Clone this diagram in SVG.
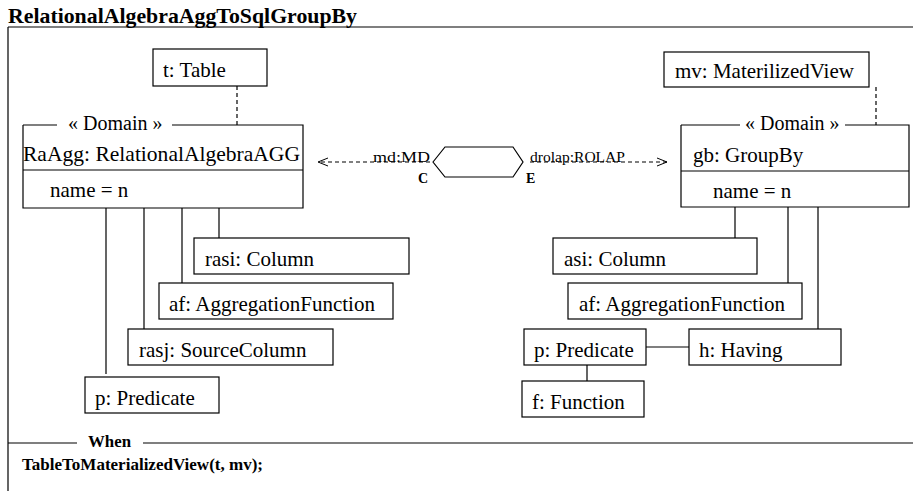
<svg xmlns="http://www.w3.org/2000/svg" width="913" height="491" viewBox="0 0 913 491">
<style>
.box{fill:#fff;stroke:#000;stroke-width:1.2}
.ln{stroke:#000;stroke-width:1.2;fill:none}
.dl{stroke:#000;stroke-width:1.2;fill:none;stroke-dasharray:4,3}
</style>
<defs>
<marker id="arr" markerWidth="12" markerHeight="10" refX="11" refY="5" orient="auto" markerUnits="userSpaceOnUse">
<path d="M1,1 L11,5 L1,9" fill="none" stroke="#000" stroke-width="1"/>
</marker>
</defs>
<rect width="913" height="491" fill="#fff"/>
<g id="frame">
<text x="8" y="23" font-family="Times New Roman" font-weight="bold" font-size="21" textLength="349" lengthAdjust="spacingAndGlyphs">RelationalAlgebraAggToSqlGroupBy</text>
<path class="ln" d="M8,27 H913 M8,27 V491"/>
<path class="ln" d="M8,443 H77 M143,443 H913"/>
<text x="88" y="447" font-family="Times New Roman" font-weight="bold" font-size="16" textLength="43" lengthAdjust="spacingAndGlyphs">When</text>
<text x="22" y="470" font-family="Times New Roman" font-weight="bold" font-size="16" textLength="241" lengthAdjust="spacingAndGlyphs">TableToMaterializedView(t, mv);</text>
</g>
<g id="connectors">
<path class="dl" d="M237,86 V125"/>
<path class="dl" d="M876,87 V125"/>
<path class="ln" d="M106,208 V374 M144,208 V329 M182,208 V283 M219,208 V238"/>
<path class="ln" d="M735,207 V238 M788,207 V283 M818,207 V329"/>
<path class="ln" d="M646,347 H689 M587,365 V381"/>
<path class="dl" d="M430,162 H318" marker-end="url(#arr)"/>
<path class="dl" d="M530,162 H667" marker-end="url(#arr)"/>
<text x="373" y="162" font-family="Times New Roman" font-size="15" textLength="57" lengthAdjust="spacingAndGlyphs">md:MD</text>
<text x="530" y="162" font-family="Times New Roman" font-size="15" textLength="95" lengthAdjust="spacingAndGlyphs">drolap:ROLAP</text>
<text x="418" y="183" font-family="Times New Roman" font-weight="bold" font-size="14">C</text>
<text x="526" y="183" font-family="Times New Roman" font-weight="bold" font-size="14">E</text>
</g>
<g id="relation">
<polygon class="box" points="433,162 445,147 513,147 523,162 513,177 445,177"/>
</g>
<g id="t">
<rect class="box" x="153" y="49" width="114" height="37"/>
<text x="163" y="77" font-family="Times New Roman" font-size="21">t: Table</text>
</g>
<g id="mv">
<rect class="box" x="664" y="52" width="205" height="35"/>
<text x="675" y="78" font-family="Times New Roman" font-size="21">mv: MaterilizedView</text>
</g>
<g id="RaAgg">
<path class="ln" d="M23,125 V208 H303 V125 H172 M57,125 H23 M23,170 H303"/>
<text x="68" y="130" font-family="Times New Roman" font-size="20">« Domain »</text>
<text x="23" y="161" font-family="Times New Roman" font-size="21" textLength="277" lengthAdjust="spacingAndGlyphs">RaAgg: RelationalAlgebraAGG</text>
<text x="50" y="197" font-family="Times New Roman" font-size="21">name = n</text>
</g>
<g id="gb">
<path class="ln" d="M681,125 V207 H909 V125 H845 M740,125 H681 M681,171 H909"/>
<text x="745" y="130" font-family="Times New Roman" font-size="20">« Domain »</text>
<text x="693" y="162" font-family="Times New Roman" font-size="21">gb: GroupBy</text>
<text x="713" y="198" font-family="Times New Roman" font-size="21">name = n</text>
</g>
<g id="rasi">
<rect class="box" x="194" y="238" width="215" height="36"/>
<text x="205" y="266" font-family="Times New Roman" font-size="21">rasi: Column</text>
</g>
<g id="afL">
<rect class="box" x="159" y="283" width="234" height="36"/>
<text x="169" y="311" font-family="Times New Roman" font-size="21">af: AggregationFunction</text>
</g>
<g id="rasj">
<rect class="box" x="128" y="329" width="205" height="36"/>
<text x="139" y="357" font-family="Times New Roman" font-size="21">rasj: SourceColumn</text>
</g>
<g id="pL">
<rect class="box" x="85" y="377" width="134" height="36"/>
<text x="95" y="405" font-family="Times New Roman" font-size="21">p: Predicate</text>
</g>
<g id="asi">
<rect class="box" x="553" y="238" width="204" height="36"/>
<text x="564" y="266" font-family="Times New Roman" font-size="21">asi: Column</text>
</g>
<g id="afR">
<rect class="box" x="568" y="283" width="234" height="36"/>
<text x="579" y="311" font-family="Times New Roman" font-size="21">af: AggregationFunction</text>
</g>
<g id="pR">
<rect class="box" x="524" y="329" width="122" height="36"/>
<text x="534" y="357" font-family="Times New Roman" font-size="21">p: Predicate</text>
</g>
<g id="h">
<rect class="box" x="689" y="329" width="152" height="36"/>
<text x="699" y="357" font-family="Times New Roman" font-size="21">h: Having</text>
</g>
<g id="f">
<rect class="box" x="522" y="381" width="122" height="36"/>
<text x="532" y="409" font-family="Times New Roman" font-size="21">f: Function</text>
</g>
</svg>
